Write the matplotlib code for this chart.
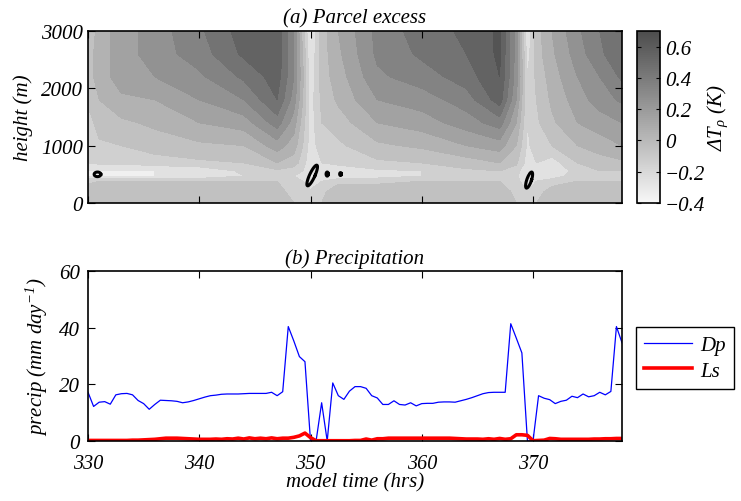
import numpy as np
import matplotlib
matplotlib.use('Agg')
import matplotlib.pyplot as plt
from matplotlib.colors import LinearSegmentedColormap, Normalize
from matplotlib.cm import ScalarMappable

plt.rcParams['font.family'] = ['Liberation Serif', 'DejaVu Serif']
plt.rcParams['font.style'] = 'italic'
plt.rcParams['mathtext.fontset'] = 'custom'
plt.rcParams['mathtext.it'] = 'Liberation Serif:italic'
plt.rcParams['mathtext.rm'] = 'Liberation Serif:italic'
plt.rcParams['mathtext.default'] = 'it'

# ---------------- data ----------------
# (b) precipitation, every 0.5 h from 330 to 378
time_hrs = np.arange(330.0, 378.01, 0.5)
dp_precip = [
    17.2, 12.2, 13.7, 13.9, 13.0, 16.3, 16.7, 16.8, 16.3, 14.3, 13.2, 11.2, 12.9, 14.4, 14.3, 14.2, 14.0, 13.5, 13.8, 14.3,
    14.9, 15.5, 16.0, 16.2, 16.5, 16.6, 16.6, 16.6, 16.7, 16.8, 16.8, 16.8, 16.8, 17.2, 16.0, 17.4, 40.4, 35.3, 29.8, 28.0,
    0.0, 0.0, 13.5, 0.0, 20.5, 16.0, 14.7, 17.6, 19.2, 19.2, 18.6, 16.0, 15.2, 12.9, 12.9, 14.2, 12.9, 12.7, 13.5, 12.4,
    13.2, 13.3, 13.3, 13.7, 13.8, 13.8, 13.7, 14.2, 14.7, 15.3, 16.0, 16.7, 17.1, 17.2, 17.2, 17.2, 41.4, 36.3, 31.1, 0.0,
    0.0, 16.0, 15.1, 14.6, 13.2, 14.0, 14.4, 15.8, 15.3, 16.6, 15.6, 16.0, 17.2, 16.3, 17.5, 40.4, 34.7,
]
ls_precip = [
    0.2, 0.2, 0.2, 0.2, 0.2, 0.2, 0.2, 0.2, 0.3, 0.3, 0.4, 0.5, 0.6, 0.8, 1.0, 1.0, 1.0, 0.9, 0.8, 0.7,
    0.6, 0.6, 0.6, 0.7, 0.6, 0.8, 0.7, 1.0, 0.7, 1.1, 0.8, 1.0, 0.8, 1.1, 0.8, 1.0, 1.0, 1.3, 1.8, 2.8,
    1.2, 0.1, 0.1, 0.1, 0.1, 0.1, 0.1, 0.1, 0.2, 0.2, 0.7, 0.3, 0.8, 0.8, 1.0, 1.0, 1.0, 1.0, 1.0, 1.0,
    1.0, 1.0, 1.0, 1.0, 1.0, 1.0, 0.9, 0.8, 0.7, 0.7, 0.7, 0.6, 0.8, 0.6, 0.9, 0.6, 0.8, 2.2, 2.2, 2.0,
    0.1, 0.2, 0.3, 0.9, 0.8, 0.6, 0.6, 0.6, 0.6, 0.6, 0.6, 0.7, 0.7, 0.8, 0.8, 0.9, 0.9,
]

# (a) parcel excess field, read on a coarse grid (columns = times, values bottom -> top)
field_times = [330, 331, 333, 336, 340, 344, 347, 348.5, 349.3, 350, 351, 352.5,
               356, 360, 364, 367, 368.5, 369.5, 370.3, 371.7, 374, 376, 378]
field_heights = [0, 200, 380, 470, 560, 700, 1000, 1400, 1800, 2200, 2600, 3000]
excess_cols = [
    [-0.05, -0.05, -0.12, -0.30, -0.30, -0.20, -0.18, -0.15, -0.08, -0.05, -0.05, -0.10],
    [-0.05, -0.05, -0.10, -0.30, -0.30, -0.18, -0.12, -0.05, 0.00, 0.05, 0.05, 0.05],
    [-0.05, -0.05, -0.10, -0.30, -0.30, -0.18, -0.10, -0.02, 0.08, 0.15, 0.15, 0.15],
    [-0.05, -0.05, -0.10, -0.30, -0.30, -0.15, -0.05, 0.02, 0.10, 0.20, 0.25, 0.25],
    [-0.05, -0.05, -0.10, -0.28, -0.28, -0.12, -0.02, 0.10, 0.20, 0.28, 0.35, 0.38],
    [-0.05, -0.05, -0.10, -0.20, -0.18, -0.10, 0.00, 0.15, 0.30, 0.42, 0.52, 0.55],
    [-0.05, -0.08, -0.10, -0.15, -0.12, 0.00, 0.15, 0.35, 0.50, 0.55, 0.58, 0.58],
    [-0.10, -0.12, -0.15, -0.20, -0.15, -0.05, 0.05, 0.15, 0.25, 0.30, 0.30, 0.30],
    [-0.12, -0.15, -0.20, -0.22, -0.20, -0.15, -0.10, -0.05, 0.00, 0.02, 0.00, -0.05],
    [-0.10, -0.18, -0.28, -0.32, -0.30, -0.28, -0.25, -0.25, -0.25, -0.28, -0.30, -0.33],
    [-0.10, -0.12, -0.20, -0.25, -0.25, -0.20, -0.15, -0.10, -0.08, -0.05, -0.05, -0.05],
    [-0.05, -0.05, -0.12, -0.28, -0.25, -0.18, -0.12, -0.05, 0.02, 0.05, 0.08, 0.10],
    [-0.05, -0.05, -0.12, -0.25, -0.22, -0.12, -0.02, 0.10, 0.20, 0.28, 0.32, 0.33],
    [-0.05, -0.05, -0.10, -0.20, -0.20, -0.10, 0.02, 0.15, 0.25, 0.35, 0.42, 0.45],
    [-0.05, -0.05, -0.10, -0.15, -0.12, -0.05, 0.10, 0.25, 0.35, 0.45, 0.50, 0.52],
    [-0.05, -0.06, -0.10, -0.12, -0.10, 0.00, 0.15, 0.35, 0.55, 0.60, 0.62, 0.62],
    [-0.10, -0.12, -0.15, -0.18, -0.15, -0.08, 0.00, 0.10, 0.20, 0.25, 0.25, 0.25],
    [-0.15, -0.20, -0.30, -0.32, -0.30, -0.25, -0.22, -0.20, -0.20, -0.20, -0.25, -0.30],
    [-0.10, -0.15, -0.20, -0.20, -0.20, -0.20, -0.15, -0.12, -0.10, -0.08, -0.05, -0.05],
    [-0.05, -0.05, -0.15, -0.25, -0.30, -0.25, -0.10, -0.02, 0.02, 0.05, 0.08, 0.10],
    [-0.05, -0.05, -0.10, -0.15, -0.15, -0.10, 0.00, 0.10, 0.15, 0.20, 0.25, 0.28],
    [-0.05, -0.05, -0.10, -0.12, -0.10, -0.05, 0.05, 0.15, 0.25, 0.30, 0.38, 0.40],
    [-0.05, -0.05, -0.10, -0.12, -0.10, -0.02, 0.10, 0.20, 0.32, 0.42, 0.48, 0.50],
]
contour_levels = [-0.4, -0.3, -0.2, -0.1, 0.0, 0.1, 0.2, 0.3, 0.4, 0.5, 0.6, 0.7]

# small black closed contours (centre time, centre height, half-width h, half-height m, lean h)
loop_t = [330.85, 350.15, 351.5, 352.7, 369.65]
loop_h = [500, 480, 505, 505, 400]
loop_dt = [0.30, 0.26, 0.10, 0.08, 0.22]
loop_dh = [40, 180, 35, 25, 140]
loop_lean = [0.0, 0.8, 0.0, 0.0, 0.45]

cbar_ticks = [-0.4, -0.2, 0.0, 0.2, 0.4, 0.6]
cbar_ticklabels = ['\u22120.4', '\u22120.2', '0', '0.2', '0.4', '0.6']

# ---------------- figure ----------------
fig = plt.figure(figsize=(7.41, 5.02), dpi=100)
ax1 = fig.add_axes([0.1188, 0.5936, 0.7206, 0.3426])
ax2 = fig.add_axes([0.1188, 0.1195, 0.7206, 0.3386])
cax = fig.add_axes([0.8596, 0.5936, 0.031, 0.3426])

cmap = LinearSegmentedColormap.from_list('greys_t', [(0.97, 0.97, 0.97), (0.30, 0.30, 0.30)])
norm = Normalize(vmin=-0.4, vmax=0.7)

Z = np.array(excess_cols).T
ax1.contourf(field_times, field_heights, Z, levels=contour_levels, cmap=cmap, norm=norm, extend='both')

theta = np.linspace(0, 2 * np.pi, 60)
for t0, h0, dt, dh, lean in zip(loop_t, loop_h, loop_dt, loop_dh, loop_lean):
    hh = h0 + dh * np.sin(theta)
    tt = t0 + dt * np.cos(theta) + lean * (hh - h0) / (2 * dh)
    ax1.plot(tt, hh, color='black', lw=2.2, solid_joinstyle='round')

ax1.set_xlim(330, 378)
ax1.set_ylim(0, 3000)
ax1.set_xticks([330, 340, 350, 360, 370])
ax1.set_xticklabels([])
ax1.set_yticks([0, 1000, 2000, 3000])
ax1.set_ylabel('height (m)', fontsize=15, labelpad=6)
ax1.set_title('(a) Parcel excess', fontsize=15, pad=6)

sm = ScalarMappable(norm=norm, cmap=cmap)
cb = fig.colorbar(sm, cax=cax)
cb.set_ticks(cbar_ticks)
cb.set_ticklabels(cbar_ticklabels)
cb.outline.set_linewidth(1.2)
cax.tick_params(direction='in', left=True, right=True, length=3, labelsize=15)
cb.set_label(r'$\Delta T_{\rho}$ (K)', fontsize=15, labelpad=0)

ax2.plot(time_hrs, dp_precip, color='blue', lw=0.9, label='Dp')
ax2.plot(time_hrs, ls_precip, color='red', lw=2.6, label='Ls')
ax2.set_xlim(330, 378)
ax2.set_ylim(0, 60)
ax2.set_xticks([330, 340, 350, 360, 370])
ax2.set_yticks([0, 20, 40, 60])
ax2.set_xlabel('model time (hrs)', fontsize=15, labelpad=0)
ax2.set_ylabel('precip (mm day$^{-1}$)', fontsize=15, labelpad=6)
ax2.set_title('(b) Precipitation', fontsize=15, pad=6)

leg = ax2.legend(loc='center left', bbox_to_anchor=(0.858, 0.285), bbox_transform=fig.transFigure,
                 fancybox=False, edgecolor='black', fontsize=15, handlelength=2.3,
                 handletextpad=0.4, borderaxespad=0, framealpha=1, labelspacing=0.3, borderpad=0.4)
leg.get_frame().set_linewidth(1.0)

for ax in (ax1, ax2):
    ax.tick_params(direction='in', top=True, right=True, length=5, width=0.8, labelsize=15)
    for s in ax.spines.values():
        s.set_linewidth(1.2)
ax2.tick_params(axis='x', pad=9, labelsize=14.5)
ax2.tick_params(axis='y', pad=6)

fig.savefig('out.png', dpi=100)
